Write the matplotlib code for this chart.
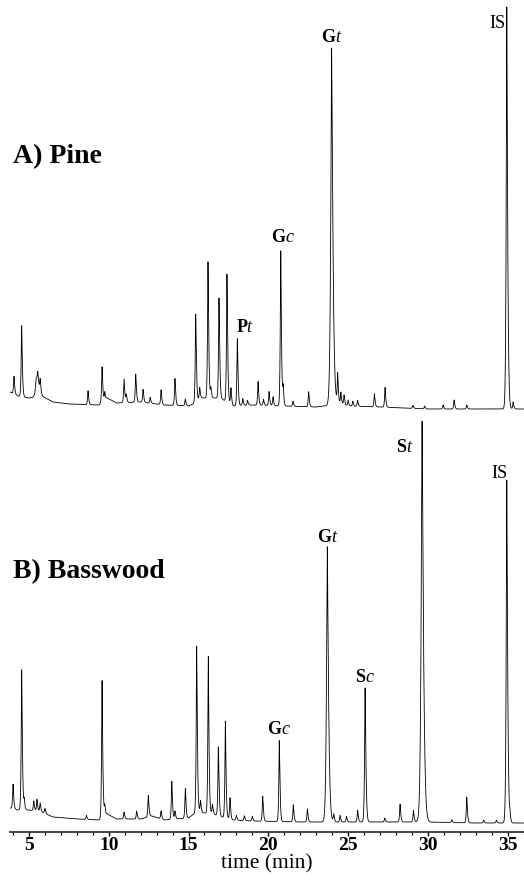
import numpy as np
import matplotlib
matplotlib.use("Agg")
import matplotlib.pyplot as plt

plt.rcParams['font.family'] = ['Liberation Serif', 'DejaVu Serif']
plt.rcParams['mathtext.fontset'] = 'custom'
plt.rcParams['mathtext.rm'] = 'Liberation Serif'
plt.rcParams['mathtext.it'] = 'Liberation Serif:italic'
plt.rcParams['mathtext.bf'] = 'Liberation Serif:bold'

# ---- peak tables (time in min, height in arb. units) ----
pine_t = [4.06, 4.54, 5.45, 5.55, 5.70, 8.70, 9.58, 9.75, 10.96, 11.10, 11.69, 12.15,
          12.60, 13.28, 14.15, 14.80, 15.45, 15.70, 16.22, 16.40, 16.91, 17.41, 17.66,
          18.06, 18.40, 18.70, 19.36, 19.70, 20.05, 20.30, 20.78, 20.93, 21.55, 22.53,
          23.97, 24.35, 24.55, 24.75, 25.00, 25.30, 25.60, 26.65, 27.32, 29.07, 29.80,
          30.96, 31.65, 32.44, 34.95, 35.35]
pine_h = [18, 72, 15, 20, 14, 14, 36, 8, 24, 8, 28, 13,
          6, 15, 27, 7, 88, 12, 138, 10, 100, 128, 17,
          68, 7, 5, 24, 6, 14, 9, 157, 18, 5, 15,
          357, 30, 12, 10, 6, 5, 6, 13, 20, 3, 3,
          4, 9, 4, 402, 7]
pine_w = {23.97: 0.075, 34.95: 0.05, 5.45: 0.07, 5.55: 0.07}

# baseline drift (time, level)
pine_base_t = [3.81, 4.3, 5.0, 5.8, 6.5, 7.5, 9.4, 9.9, 10.5, 12.0, 13.5, 15.0, 15.3,
               15.8, 17.0, 17.8, 19.0, 21.0, 23.0, 24.5, 25.0, 27.0, 30.0, 36.1]
pine_base_y = [20, 16, 14, 16, 10, 8, 7, 14, 9, 10, 7, 6, 8,
               14, 14, 6, 7, 6, 5, 8, 6, 5, 3, 3]

bass_t = [4.00, 4.54, 4.70, 5.30, 5.50, 5.70, 6.00, 8.60, 9.58, 9.75, 10.96, 11.75,
          12.48, 13.28, 13.95, 14.15, 14.80, 15.51, 15.75, 16.24, 16.50, 16.87, 17.31,
          17.60, 18.00, 18.50, 19.00, 19.65, 20.69, 21.57, 22.45, 23.70, 24.10, 24.50,
          24.90, 25.60, 26.07, 27.30, 28.26, 29.10, 29.64, 31.50, 32.44, 33.50, 34.30,
          34.95, 35.15]
bass_h = [25, 142, 10, 10, 12, 9, 5, 4, 139, 10, 7, 8,
          22, 8, 38, 8, 30, 166, 12, 159, 10, 69, 97,
          22, 5, 5, 5, 25, 81, 17, 13, 277, 8, 7,
          6, 12, 134, 4, 18, 12, 403, 3, 26, 3, 3,
          343, 8]
bass_w = {23.70: 0.07, 29.64: 0.08, 34.95: 0.05, 26.07: 0.045}

bass_base_t = [3.81, 4.3, 5.0, 5.8, 6.5, 8.0, 9.4, 9.9, 10.5, 12.0, 12.7, 13.5, 15.0,
               15.5, 16.5, 17.7, 19.0, 22.0, 24.0, 26.5, 29.0, 29.8, 33.0, 36.1]
bass_base_y = [24, 22, 22, 20, 15, 13, 12, 18, 13, 13, 16, 12, 14,
               20, 18, 12, 11, 10, 10, 10, 10, 10, 9, 9]

pine_offset = 420

# peak labels: (text, time, level)
pine_labels = [(r'$\mathbf{G}\mathit{t}$', 23.97, 795),
               (r'IS', 34.34, 809),
               (r'$\mathbf{G}\mathit{c}$', 20.92, 595),
               (r'$\mathbf{P}\mathit{t}$', 18.55, 505)]
bass_labels = [(r'$\mathbf{S}\mathit{t}$', 28.57, 385),
               (r'IS', 34.50, 359),
               (r'$\mathbf{G}\mathit{t}$', 23.75, 295),
               (r'$\mathbf{S}\mathit{c}$', 26.07, 154),
               (r'$\mathbf{G}\mathit{c}$', 20.67, 102)]


def trace(t, peaks_t, peaks_h, widths, base_t, base_y):
    y = np.interp(t, base_t, base_y)
    for pt, ph in zip(peaks_t, peaks_h):
        s = widths.get(pt, 0.04)
        d = np.abs(t - pt) / np.where(t < pt, s, 1.4 * s)
        y = y + ph * np.exp(-d ** 1.3)
    return y


t = np.arange(3.81, 36.05, 0.004)
y_pine = trace(t, pine_t, pine_h, pine_w, pine_base_t, pine_base_y) + pine_offset
y_bass = trace(t, bass_t, bass_h, bass_w, bass_base_t, bass_base_y)

fig = plt.figure(figsize=(5.24, 8.84), dpi=100)
ax = fig.add_axes([10 / 524, 1 - 832 / 884, 514 / 524, 832 / 884])

ax.plot(t, y_pine, color='black', lw=0.6)
ax.plot(t, y_bass, color='black', lw=0.6)

ax.set_xlim(3.81, 36.03)
ax.set_ylim(0, 832)

for txt, x, yy in pine_labels + bass_labels:
    ax.text(x, yy, txt, ha='center', va='center', fontsize=13)

ax.text(4.0, 675, 'A) Pine', fontsize=20, fontweight='bold', va='center', ha='left')
ax.text(4.0, 260, 'B) Basswood', fontsize=20, fontweight='bold', va='center', ha='left')

for s in ['top', 'left', 'right']:
    ax.spines[s].set_visible(False)
ax.spines['bottom'].set_linewidth(1.3)
ax.spines['bottom'].set_color('#333333')
ax.set_yticks([])
ax.set_xticks([5, 10, 15, 20, 25, 30, 35])
ax.set_xticks(np.arange(4, 37, 1), minor=True)
ax.tick_params(axis='x', which='major', length=3, width=1, direction='out', pad=0.5,
               labelsize=14)
ax.tick_params(axis='x', which='minor', length=2.5, width=0.8, direction='out')
for lab in ax.get_xticklabels():
    lab.set_fontweight('bold')
ax.set_xlabel('time (min)', fontsize=15.5, labelpad=0)

fig.savefig('out.png', dpi=100)
